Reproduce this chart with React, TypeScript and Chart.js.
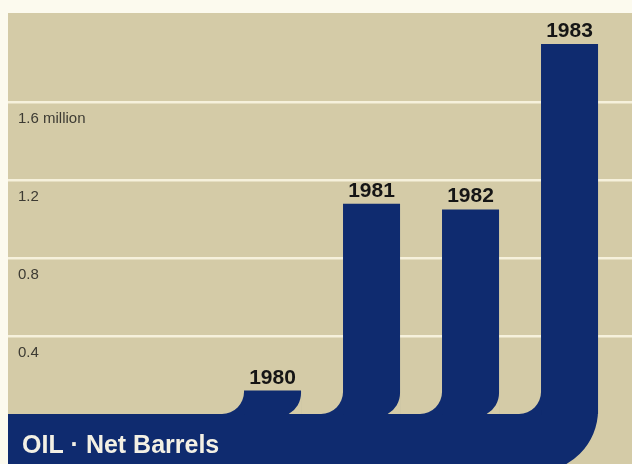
import React, { useEffect, useRef } from 'react';
import { Chart, registerables } from 'chart.js';

Chart.register(...registerables);

// ---- data ----
const years = [1980, 1981, 1982, 1983];
const netBarrels = [0.12, 1.08, 1.05, 1.9]; // millions of barrels
const tickValues = [0.4, 0.8, 1.2, 1.6];
const tickLabels = ['0.4', '0.8', '1.2', '1.6 million'];
const titleText = 'OIL · Net Barrels';

// ---- style ----
const CREAM = '#fcfaee';
const BEIGE = '#d4cba7';
const NAVY = '#0f2b6f';
const GRID = '#f6f1dc';
const FONT = '"Liberation Sans", Arial, Helvetica, sans-serif';

const jShapePlugin = {
  id: 'jShape',
  beforeDraw(chart: any) {
    const { ctx, chartArea: a } = chart;
    ctx.save();
    ctx.fillStyle = CREAM;
    ctx.fillRect(0, 0, chart.width, chart.height);
    ctx.fillStyle = BEIGE;
    ctx.fillRect(a.left, a.top, a.right - a.left, a.bottom - a.top);
    ctx.restore();
  },
  afterDatasetsDraw(chart: any) {
    const { ctx, chartArea: a } = chart;
    const yScale = chart.scales.y;
    const meta = chart.getDatasetMeta(0);
    const y0 = yScale.getPixelForValue(0);
    const bars = meta.data.map((el: any) => el.getProps(['x', 'y', 'width', 'base'], true));
    ctx.save();
    ctx.beginPath();
    ctx.rect(a.left, a.top, a.right - a.left, a.bottom - a.top);
    ctx.clip();

    // axis labels, sitting just under each gridline
    ctx.fillStyle = '#3d3b33';
    ctx.font = `15px ${FONT}`;
    ctx.textAlign = 'left';
    ctx.textBaseline = 'alphabetic';
    tickValues.forEach((v, i) => {
      ctx.fillText(tickLabels[i], a.left + 10, yScale.getPixelForValue(v) + 21);
    });

    // bottom band ending in the hook of the last bar
    const last = bars[bars.length - 1];
    const lr = last.x + last.width / 2;
    const bigR = 62;
    const hookTop = y0 - 4;
    ctx.fillStyle = NAVY;
    ctx.beginPath();
    ctx.moveTo(a.left, y0);
    ctx.lineTo(lr - bigR, y0);
    ctx.lineTo(lr - bigR, hookTop);
    ctx.lineTo(lr, hookTop);
    ctx.arc(lr - bigR, hookTop, bigR, 0, Math.PI / 2);
    ctx.lineTo(a.left, hookTop + bigR);
    ctx.closePath();
    ctx.fill();

    // left fillets
    bars.forEach((b: any) => {
      const xl = b.x - b.width / 2;
      const r = Math.min(22, y0 - b.y);
      ctx.beginPath();
      ctx.moveTo(xl + 0.5, y0 - r);
      ctx.lineTo(xl + 0.5, y0 + 1);
      ctx.lineTo(xl - r, y0 + 1);
      ctx.lineTo(xl - r, y0);
      ctx.arc(xl - r, y0 - r, r, Math.PI / 2, 0, true);
      ctx.closePath();
      ctx.fill();
    });

    // right bottom curve (J hook) cut-outs, all but the last bar
    ctx.fillStyle = BEIGE;
    bars.slice(0, -1).forEach((b: any) => {
      const xr = b.x + b.width / 2;
      const R = 24;
      const h = 21;
      const cx = xr - R;
      const cy = y0 - h;
      const th = Math.asin(h / R);
      ctx.beginPath();
      ctx.moveTo(xr, cy);
      ctx.lineTo(xr + 0.5, cy);
      ctx.lineTo(xr + 0.5, y0);
      ctx.lineTo(cx + R * Math.cos(th), y0);
      ctx.arc(cx, cy, R, th, 0, true);
      ctx.closePath();
      ctx.fill();
    });

    // year labels
    ctx.fillStyle = '#151515';
    ctx.font = `bold 21px ${FONT}`;
    ctx.textAlign = 'center';
    bars.forEach((b: any, i: number) => {
      ctx.fillText(String(years[i]), b.x, b.y - 7);
    });

    // band caption
    ctx.fillStyle = '#f3f0e4';
    ctx.font = `bold 25px ${FONT}`;
    ctx.textAlign = 'left';
    ctx.fillText(titleText, a.left + 14, y0 + 39);
    ctx.restore();
  },
};

export default function App() {
  const ref = useRef<HTMLCanvasElement | null>(null);

  useEffect(() => {
    document.body.style.margin = '0';
    const canvas = ref.current;
    if (!canvas) return;
    const chart = new Chart(canvas, {
      type: 'bar',
      data: {
        datasets: [
          {
            data: years.map((yr, i) => ({ x: yr, y: netBarrels[i] })),
            backgroundColor: NAVY,
            borderWidth: 0,
            barPercentage: 0.576,
            categoryPercentage: 1,
          },
        ],
      },
      options: {
        responsive: false,
        maintainAspectRatio: false,
        animation: false,
        layout: { padding: { left: 8, top: 13, right: 0, bottom: 0 } },
        plugins: { legend: { display: false }, tooltip: { enabled: false }, title: { display: false } },
        scales: {
          x: {
            type: 'linear',
            display: false,
            offset: false,
            min: 1977.328,
            max: 1983.631,
          },
          y: {
            min: -0.257,
            max: 2.059,
            afterBuildTicks: (scale: any) => {
              scale.ticks = tickValues.map((v) => ({ value: v }));
            },
            ticks: { display: false },
            grid: { color: GRID, lineWidth: 2.5, drawTicks: false },
            border: { display: false },
          },
        },
      },
      plugins: [jShapePlugin],
    } as any);
    return () => chart.destroy();
  }, []);

  return (
    <div style={{ width: 632, height: 464 }}>
      <canvas ref={ref} width={632} height={464} style={{ display: 'block' }} />
    </div>
  );
}
